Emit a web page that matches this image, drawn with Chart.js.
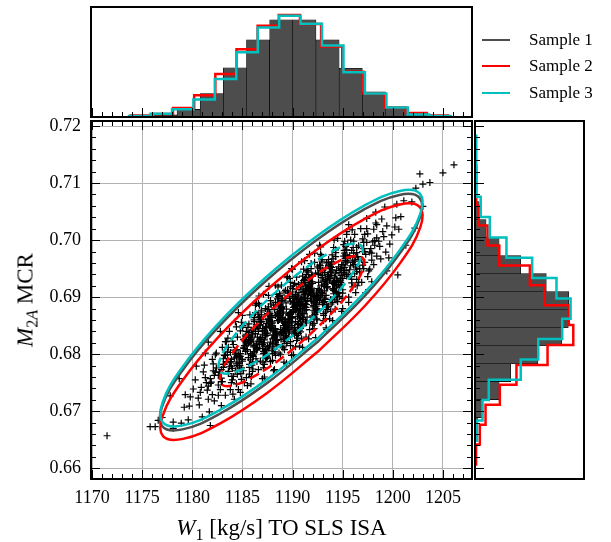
<!DOCTYPE html>
<html>
<head>
<meta charset="utf-8">
<title>Sample comparison</title>
<script src="https://cdn.jsdelivr.net/npm/chart.js@4.4.1/dist/chart.umd.min.js"></script>
<style>
  html, body { margin: 0; padding: 0; background: #fff; }
  #wrap { position: relative; width: 611px; height: 542px; overflow: hidden; font-family: "Liberation Serif", "Times New Roman", serif; color: #000; }
  #wrap canvas { position: absolute; left: 0; top: 0; }
  .title { position: absolute; font-size: 23px; line-height: 23px; white-space: nowrap; }
  .title sub { font-size: 0.7em; vertical-align: -0.3em; line-height: 0; }
  #xtitle { left: 91px; width: 381px; top: 516px; text-align: center; }
  #ytitle { left: 25px; top: 300px; transform: translate(-50%, -50%) rotate(-90deg); }
  .leg { position: absolute; left: 482px; font-size: 17px; line-height: 20px; white-space: nowrap; }
  .leg span { display: inline-block; width: 28px; height: 0; border-top: 2.5px solid; vertical-align: middle; margin-right: 19px; position: relative; top: -1px; }
</style>
</head>
<body>
<div id="wrap">
  <canvas id="main" width="611" height="542"></canvas>
  <canvas id="topHist" width="611" height="542"></canvas>
  <canvas id="sideHist" width="611" height="542"></canvas>
  <div class="title" id="xtitle"><i>W</i><sub>1</sub> [kg/s] TO SLS ISA</div>
  <div class="title" id="ytitle"><i>M</i><sub>2<i>A</i></sub> MCR</div>
  <div class="leg" style="top:30px"><span style="border-color:#4d4d4d"></span>Sample 1</div>
  <div class="leg" style="top:56px"><span style="border-color:#ff0000"></span>Sample 2</div>
  <div class="leg" style="top:83px"><span style="border-color:#00bfbf"></span>Sample 3</div>
</div>
<script>
// colours of the three samples
const GRAY = '#4d4d4d', RED = '#ff0000', CYAN = '#00bfbf';

// axis ticks
const xTicks = [1170, 1175, 1180, 1185, 1190, 1195, 1200, 1205];
const yTicks = [0.66, 0.67, 0.68, 0.69, 0.70, 0.71, 0.72];

// top histogram (W1), density per bin
const grayEdgesX = [1171.55, 1173.86, 1176.17, 1178.48, 1180.79, 1183.10, 1185.41, 1187.72, 1190.03, 1192.34, 1194.65, 1196.96, 1199.27, 1201.58, 1203.89, 1206.20];
const grayDensX = [0.0004, 0.0008, 0.0017, 0.0063, 0.0195, 0.0409, 0.0640, 0.0807, 0.0807, 0.0640, 0.0404, 0.0209, 0.0078, 0.0017, 0.0008];
const redEdgesX = [1173.86, 1175.97, 1178.08, 1180.19, 1182.30, 1184.41, 1186.52, 1188.63, 1190.74, 1192.85, 1194.96, 1197.07, 1199.18, 1201.29, 1203.40, 1205.51];
const redDensX = [0.0012, 0.0025, 0.0075, 0.0181, 0.0357, 0.0563, 0.0757, 0.0847, 0.0772, 0.0585, 0.0376, 0.0195, 0.0078, 0.0033, 0.0012];
const cyanEdgesX = [1173.70, 1175.84, 1177.98, 1180.11, 1182.25, 1184.39, 1186.53, 1188.67, 1190.80, 1192.94, 1195.08, 1197.22, 1199.36, 1201.49, 1203.63, 1205.77];
const cyanDensX = [0.0008, 0.0028, 0.0064, 0.0145, 0.0315, 0.0538, 0.0743, 0.0841, 0.0774, 0.0593, 0.0371, 0.0195, 0.0078, 0.0020, 0.0008];

// right histogram (M2A), density per bin
const grayEdgesY = [0.66572, 0.66888, 0.67203, 0.67519, 0.67834, 0.68150, 0.68465, 0.68781, 0.69096, 0.69412, 0.69727, 0.70043, 0.70359, 0.70674, 0.70990, 0.71305];
const grayDensY = [1.4, 4.5, 13.5, 20.0, 35.2, 48.6, 52.2, 52.4, 39.9, 25.6, 13.5, 6.2, 2.3, 0.8, 1.1];
const redEdgesY = [0.66067, 0.66416, 0.66765, 0.67114, 0.67463, 0.67812, 0.68161, 0.68510, 0.68859, 0.69208, 0.69557, 0.69906, 0.70255, 0.70604, 0.70953, 0.71302];
const redDensY = [0.6, 2.7, 5.9, 13.9, 23.2, 40.6, 55.0, 52.5, 38.8, 30.7, 13.6, 7.0, 2.1, 0.8, 0.6];
const cyanEdgesY = [0.66482, 0.66839, 0.67195, 0.67552, 0.67908, 0.68265, 0.68621, 0.68978, 0.69334, 0.69691, 0.70047, 0.70404, 0.70760, 0.71117, 0.71473, 0.71830];
const cyanDensY = [1.1, 4.2, 7.7, 25.6, 35.4, 48.8, 53.5, 45.6, 32.0, 17.6, 8.3, 3.2, 0.8, 0.7, 0.7];

// confidence contours (outer solid, inner dashed)
const grayOuter = [[1192.49,0.68213],[1187.38,0.67484],[1182.66,0.66947],[1179.02,0.66682],[1177.03,0.66730],[1176.99,0.67083],[1178.91,0.67689],[1182.48,0.68453],[1187.19,0.69262],[1192.30,0.69990],[1197.02,0.70527],[1200.66,0.70792],[1202.65,0.70744],[1202.69,0.70391],[1200.77,0.69785],[1197.20,0.69021],[1192.49,0.68213]];
const redOuter = [[1192.54,0.68046],[1187.43,0.67317],[1182.71,0.66780],[1179.07,0.66515],[1177.08,0.66563],[1177.04,0.66916],[1178.96,0.67522],[1182.53,0.68286],[1187.24,0.69095],[1192.35,0.69823],[1197.07,0.70360],[1200.71,0.70625],[1202.70,0.70577],[1202.74,0.70224],[1200.82,0.69618],[1197.25,0.68854],[1192.54,0.68046]];
const cyanOuter = [[1192.54,0.68283],[1187.43,0.67554],[1182.71,0.67017],[1179.07,0.66752],[1177.08,0.66800],[1177.04,0.67153],[1178.96,0.67759],[1182.53,0.68523],[1187.24,0.69332],[1192.35,0.70060],[1197.07,0.70597],[1200.71,0.70862],[1202.70,0.70814],[1202.74,0.70461],[1200.82,0.69855],[1197.25,0.69091],[1192.54,0.68283]];
const redInner = [[1191.41,0.68292],[1188.60,0.67891],[1186.00,0.67596],[1184.00,0.67450],[1182.90,0.67476],[1182.88,0.67671],[1183.94,0.68004],[1185.90,0.68424],[1188.49,0.68869],[1191.30,0.69269],[1193.90,0.69564],[1195.90,0.69711],[1197.00,0.69684],[1197.02,0.69490],[1195.96,0.69157],[1194.00,0.68736],[1191.41,0.68292]];
const cyanInner = [[1191.26,0.68512],[1188.45,0.68111],[1185.85,0.67816],[1183.85,0.67670],[1182.75,0.67696],[1182.73,0.67891],[1183.79,0.68224],[1185.75,0.68644],[1188.34,0.69089],[1191.15,0.69489],[1193.75,0.69784],[1195.75,0.69931],[1196.85,0.69904],[1196.87,0.69710],[1195.81,0.69377],[1193.85,0.68956],[1191.26,0.68512]];

// Sample 1 scatter (W1, M2A)
const samplePoints = [
  [1190.1,0.6875],[1189.7,0.6871],[1190.4,0.6879],[1189.9,0.6866],[1190.2,0.6884],[1189.6,0.6862],[1190.0,0.6888],[1190.3,0.6857],[1189.8,0.6893],[1190.5,0.6852],
  [1189.7,0.6898],[1190.2,0.6847],[1190.0,0.6904],[1190.3,0.6841],[1189.5,0.6911],[1190.4,0.6833],[1190.1,0.6920],[1189.8,0.6822],[1190.4,0.6935],[1189.9,0.6798],
  [1189.8,0.6873],[1190.3,0.6877],[1189.6,0.6869],[1190.1,0.6882],[1190.0,0.6864],[1190.4,0.6886],[1189.7,0.6860],[1190.2,0.6891],[1189.9,0.6855],[1190.4,0.6896],
  [1189.5,0.6850],[1190.0,0.6901],[1190.2,0.6844],[1189.6,0.6907],[1190.1,0.6837],[1190.0,0.6915],[1190.5,0.6828],[1189.8,0.6926],[1190.3,0.6813],[1189.9,0.6950],
  [1190.6,0.6889],[1191.0,0.6885],[1191.3,0.6893],[1190.8,0.6880],[1191.5,0.6898],[1190.7,0.6876],[1191.2,0.6902],[1191.0,0.6871],[1191.3,0.6907],[1190.5,0.6866],
  [1191.4,0.6912],[1191.1,0.6861],[1190.8,0.6918],[1191.4,0.6855],[1190.9,0.6925],[1190.8,0.6847],[1191.3,0.6934],[1190.6,0.6836],[1191.1,0.6949],[1191.0,0.6812],
  [1191.4,0.6887],[1190.7,0.6891],[1191.2,0.6883],[1190.9,0.6896],[1191.4,0.6878],[1190.5,0.6900],[1191.0,0.6874],[1191.2,0.6905],[1190.6,0.6869],[1191.1,0.6910],
  [1191.0,0.6864],[1191.5,0.6915],[1190.8,0.6858],[1191.3,0.6921],[1190.9,0.6851],[1191.1,0.6929],[1190.7,0.6842],[1191.4,0.6940],[1190.9,0.6827],[1191.2,0.6964],
  [1188.7,0.6861],[1189.2,0.6857],[1189.0,0.6865],[1189.3,0.6852],[1188.5,0.6870],[1189.4,0.6848],[1189.1,0.6874],[1188.8,0.6843],[1189.4,0.6879],[1188.9,0.6838],
  [1188.8,0.6884],[1189.3,0.6833],[1188.6,0.6890],[1189.1,0.6827],[1189.0,0.6897],[1189.4,0.6819],[1188.7,0.6906],[1189.2,0.6808],[1188.9,0.6921],[1189.4,0.6784],
  [1188.5,0.6859],[1189.0,0.6863],[1189.2,0.6855],[1188.6,0.6868],[1189.1,0.6850],[1189.0,0.6872],[1189.5,0.6846],[1188.8,0.6877],[1189.3,0.6841],[1188.9,0.6882],
  [1189.1,0.6836],[1188.7,0.6887],[1189.4,0.6830],[1188.9,0.6893],[1189.2,0.6823],[1188.6,0.6901],[1189.0,0.6814],[1189.3,0.6912],[1188.8,0.6799],[1189.5,0.6936],
  [1192.4,0.6902],[1192.1,0.6904],[1191.8,0.6897],[1192.4,0.6909],[1191.9,0.6893],[1191.8,0.6914],[1192.3,0.6888],[1191.6,0.6919],[1192.1,0.6883],[1192.0,0.6924],
  [1192.4,0.6877],[1191.7,0.6930],[1192.2,0.6870],[1191.9,0.6937],[1192.4,0.6862],[1191.5,0.6947],[1192.0,0.6851],[1192.2,0.6961],[1191.6,0.6827],[1192.1,0.6900],
  [1192.0,0.6907],[1192.5,0.6895],[1191.8,0.6911],[1192.3,0.6890],[1191.9,0.6916],[1192.1,0.6885],[1191.7,0.6921],[1192.4,0.6880],[1191.9,0.6927],[1192.2,0.6874],
  [1191.6,0.6934],[1192.0,0.6867],[1192.3,0.6942],[1191.8,0.6857],[1192.5,0.6953],[1191.7,0.6843],[1192.2,0.6977],
  [1187.8,0.6846],[1188.3,0.6844],[1187.6,0.6851],[1188.1,0.6839],[1188.0,0.6855],[1188.4,0.6834],[1187.7,0.6860],[1188.2,0.6829],[1187.9,0.6865],[1188.4,0.6824],
  [1187.5,0.6871],[1188.0,0.6818],[1188.2,0.6878],[1187.6,0.6811],[1188.1,0.6886],[1188.0,0.6801],[1188.5,0.6897],[1187.8,0.6787],[1188.3,0.6921],[1187.9,0.6848],
  [1188.1,0.6841],[1187.7,0.6853],[1188.4,0.6837],[1187.9,0.6858],[1188.2,0.6832],[1187.6,0.6863],[1188.0,0.6827],[1188.3,0.6868],[1187.8,0.6821],[1188.5,0.6874],
  [1187.7,0.6814],[1188.2,0.6881],[1188.0,0.6806],[1188.3,0.6891],[1187.5,0.6795],[1188.4,0.6905],[1188.1,0.6771],
  [1193.4,0.6918],[1192.7,0.6913],[1193.2,0.6923],[1192.9,0.6908],[1193.4,0.6928],[1192.5,0.6903],[1193.0,0.6934],[1193.2,0.6897],[1192.6,0.6940],[1193.1,0.6891],
  [1193.0,0.6947],[1193.5,0.6883],[1192.8,0.6955],[1193.3,0.6874],[1192.9,0.6966],[1193.1,0.6859],[1192.7,0.6991],[1193.4,0.6916],[1192.9,0.6921],[1193.2,0.6911],
  [1192.6,0.6926],[1193.0,0.6906],[1193.3,0.6931],[1192.8,0.6900],[1193.5,0.6937],[1192.7,0.6894],[1193.2,0.6943],[1193.0,0.6887],[1193.3,0.6951],[1192.5,0.6879],
  [1193.4,0.6960],[1193.1,0.6868],[1192.8,0.6975],[1193.4,0.6843],
  [1186.5,0.6830],[1187.0,0.6835],[1187.2,0.6825],[1186.6,0.6840],[1187.1,0.6820],[1187.0,0.6845],[1187.5,0.6814],[1186.8,0.6851],[1187.3,0.6808],[1186.9,0.6857],
  [1187.1,0.6801],[1186.7,0.6865],[1187.4,0.6793],[1186.9,0.6874],[1187.2,0.6782],[1186.6,0.6889],[1187.0,0.6757],[1187.3,0.6832],[1186.8,0.6827],[1187.5,0.6837],
  [1186.7,0.6822],[1187.2,0.6842],[1187.0,0.6817],[1187.3,0.6848],[1186.5,0.6811],[1187.4,0.6854],[1187.1,0.6805],[1186.8,0.6861],[1187.4,0.6797],[1186.9,0.6869],
  [1186.8,0.6788],[1187.3,0.6880],[1186.6,0.6773],[1187.1,0.6905],
  [1194.4,0.6932],[1194.1,0.6927],[1193.8,0.6938],[1194.4,0.6921],[1193.9,0.6944],[1194.1,0.6915],[1193.7,0.6950],[1194.4,0.6908],[1193.9,0.6958],[1194.2,0.6900],
  [1193.6,0.6966],[1194.0,0.6891],[1194.3,0.6978],[1193.8,0.6875],[1194.5,0.7003],[1193.7,0.6930],[1194.2,0.6935],[1194.0,0.6924],[1194.3,0.6941],[1193.5,0.6918],
  [1194.4,0.6947],[1194.1,0.6912],[1193.8,0.6954],[1194.4,0.6904],[1193.9,0.6962],[1193.8,0.6896],[1194.3,0.6971],[1193.6,0.6884],[1194.1,0.6987],[1194.0,0.6859],
  [1186.1,0.6816],[1185.7,0.6821],[1186.4,0.6810],[1185.9,0.6827],[1186.2,0.6804],[1185.6,0.6833],[1186.0,0.6798],[1186.3,0.6840],[1185.8,0.6790],[1186.5,0.6848],
  [1185.7,0.6782],[1186.2,0.6857],[1186.0,0.6770],[1186.3,0.6873],[1185.5,0.6745],[1186.4,0.6818],[1186.1,0.6813],[1185.8,0.6824],[1186.4,0.6807],[1185.9,0.6830],
  [1185.8,0.6801],[1186.3,0.6836],[1185.6,0.6794],[1186.1,0.6844],[1186.0,0.6786],[1186.4,0.6852],[1185.7,0.6777],[1186.2,0.6864],[1185.9,0.6761],[1186.4,0.6889],
  [1194.9,0.6947],[1195.2,0.6940],[1194.6,0.6953],[1195.0,0.6933],[1195.3,0.6960],[1194.8,0.6926],[1195.5,0.6968],[1194.7,0.6918],[1195.2,0.6977],[1195.0,0.6907],
  [1195.3,0.6989],[1194.5,0.6892],[1195.4,0.7015],[1195.1,0.6943],[1194.8,0.6950],[1195.4,0.6937],[1194.9,0.6957],[1194.8,0.6930],[1195.3,0.6964],[1194.6,0.6922],
  [1195.1,0.6972],[1195.0,0.6913],[1195.4,0.6983],[1194.7,0.6901],[1195.2,0.6998],[1194.9,0.6875],
  [1184.8,0.6801],[1185.5,0.6808],[1184.7,0.6795],[1185.2,0.6815],[1185.0,0.6788],[1185.3,0.6822],[1184.5,0.6780],[1185.4,0.6830],[1185.1,0.6771],[1184.8,0.6841],
  [1185.4,0.6759],[1184.9,0.6856],[1184.8,0.6733],[1185.3,0.6805],[1184.6,0.6798],[1185.1,0.6811],[1185.0,0.6791],[1185.4,0.6818],[1184.7,0.6784],[1185.2,0.6826],
  [1184.9,0.6776],[1185.4,0.6835],[1184.5,0.6765],[1185.0,0.6847],[1185.2,0.6750],[1184.6,0.6873],
  [1196.0,0.6961],[1196.3,0.6953],[1195.5,0.6969],[1196.4,0.6945],[1196.1,0.6977],[1195.8,0.6936],[1196.4,0.6987],[1195.9,0.6925],[1195.8,0.7000],[1196.3,0.6908],
  [1195.6,0.7027],[1196.1,0.6957],[1196.0,0.6965],[1196.4,0.6949],[1195.7,0.6973],[1196.2,0.6941],[1195.9,0.6982],[1196.4,0.6931],[1195.5,0.6993],[1196.0,0.6918],
  [1196.2,0.7010],[1195.6,0.6891],
  [1183.8,0.6787],[1184.4,0.6795],[1183.9,0.6779],[1183.8,0.6803],[1184.3,0.6771],[1183.6,0.6812],[1184.1,0.6761],[1184.0,0.6823],[1184.4,0.6748],[1183.7,0.6840],
  [1184.2,0.6721],[1183.9,0.6791],[1184.4,0.6783],[1183.5,0.6799],[1184.0,0.6775],[1184.2,0.6807],[1183.6,0.6766],[1184.1,0.6817],[1184.0,0.6755],[1184.5,0.6830],
  [1183.8,0.6738],[1184.3,0.6857],
  [1197.3,0.6975],[1196.6,0.6966],[1197.1,0.6985],[1197.0,0.6956],[1197.4,0.6996],[1196.7,0.6944],[1197.2,0.7010],[1196.9,0.6926],[1197.4,0.7038],[1196.5,0.6971],
  [1197.0,0.6980],[1197.2,0.6961],[1196.6,0.6990],[1197.1,0.6950],[1197.0,0.7002],[1197.5,0.6936],[1196.8,0.7020],[1197.3,0.6908],
  [1182.9,0.6773],[1183.2,0.6782],[1182.6,0.6763],[1183.1,0.6792],[1183.0,0.6752],[1183.5,0.6804],[1182.8,0.6738],[1183.3,0.6822],[1182.9,0.6710],[1183.1,0.6777],
  [1182.7,0.6768],[1183.4,0.6787],[1182.9,0.6758],[1183.2,0.6798],[1182.6,0.6746],[1183.0,0.6812],[1183.3,0.6728],[1182.8,0.6840],
  [1198.2,0.6991],[1197.7,0.6979],[1198.4,0.7004],[1197.9,0.6965],[1198.1,0.7019],[1197.6,0.6946],[1198.3,0.7049],[1197.8,0.6985],[1198.0,0.6997],[1198.4,0.6972],
  [1197.5,0.7011],[1198.1,0.6957],[1198.3,0.7030],[1197.9,0.6927],
  [1181.8,0.6757],[1182.3,0.6769],[1181.6,0.6744],[1182.1,0.6783],[1182.0,0.6729],[1182.4,0.6802],[1181.7,0.6699],[1182.2,0.6763],[1181.9,0.6751],[1182.4,0.6776],
  [1181.5,0.6737],[1182.0,0.6791],[1182.2,0.6718],[1181.6,0.6821],
  [1199.1,0.7006],[1198.7,0.6989],[1199.4,0.7025],[1198.8,0.6967],[1199.2,0.7058],[1198.6,0.6998],[1199.0,0.7015],[1199.3,0.6979],[1198.9,0.7037],[1199.4,0.6946],
  [1180.9,0.6742],[1181.3,0.6759],[1180.6,0.6723],[1181.2,0.6781],[1181.0,0.6690],[1181.4,0.6750],[1180.8,0.6733],[1181.1,0.6769],[1180.7,0.6711],[1181.3,0.6802],
  [1200.2,0.7023],[1199.7,0.6993],[1200.4,0.7063],[1199.9,0.7009],[1200.3,0.7039],[1199.6,0.6969],
  [1179.8,0.6725],[1180.3,0.6755],[1179.6,0.6685],[1180.1,0.6739],[1179.7,0.6709],[1180.4,0.6779],
  [1200.8,0.7041],[1201.3,0.6991],[1201.1,0.7069],[1200.6,0.7019],
  [1179.2,0.6707],[1178.7,0.6757],[1178.9,0.6679],[1179.3,0.6729],
  [1201.9,0.7067],[1202.2,0.7021],[1178.1,0.6681],[1177.8,0.6727],[1203.0,0.7059],[1177.0,0.6689],
  [1171.5,0.6657],[1175.8,0.6673],[1176.3,0.6673],[1176.6,0.6684],[1178.1,0.6670],[1181.8,0.6675],
  [1206.1,0.7132],[1205.0,0.7118],[1203.7,0.7101],[1203.0,0.7098],[1202.7,0.7116],[1202.3,0.7091],[1200.5,0.6939],
  // denser core
  [1190.05,0.6875],[1189.75,0.6870],[1190.35,0.6880],[1189.85,0.6866],[1190.25,0.6885],[1189.55,0.6861],[1190.15,0.6890],[1189.65,0.6855],[1190.45,0.6895],[1189.95,0.6850],
  [1190.3,0.6902],[1189.6,0.6843],[1190.0,0.6909],[1190.2,0.6835],[1189.8,0.6918],[1190.4,0.6824],[1189.7,0.6933],[1190.1,0.6799],
  [1189.9,0.6873],[1190.35,0.6878],[1189.65,0.6868],[1190.25,0.6882],[1189.95,0.6863],[1190.45,0.6887],[1189.75,0.6858],[1190.05,0.6893],[1189.55,0.6853],[1190.15,0.6898],
  [1189.85,0.6846],[1190.3,0.6905],[1189.7,0.6839],[1190.4,0.6913],[1189.6,0.6830],[1190.2,0.6924],[1189.8,0.6815],[1190.0,0.6949],
  [1190.65,0.6888],[1191.25,0.6889],[1190.95,0.6884],[1191.45,0.6894],[1190.75,0.6879],[1191.05,0.6899],[1190.55,0.6874],[1191.15,0.6905],[1190.85,0.6868],[1191.3,0.6911],
  [1190.7,0.6862],[1191.4,0.6918],[1190.6,0.6854],[1191.2,0.6926],[1190.8,0.6845],[1191.0,0.6937],[1191.35,0.6830],[1190.9,0.6962],
  [1191.05,0.6887],[1190.75,0.6892],[1191.35,0.6882],[1190.85,0.6897],[1191.25,0.6877],[1190.55,0.6902],[1191.15,0.6871],[1190.65,0.6908],[1191.45,0.6865],[1190.95,0.6914],
  [1191.3,0.6858],[1190.6,0.6922],[1191.0,0.6850],[1191.2,0.6931],[1190.8,0.6839],[1191.4,0.6946],[1190.7,0.6814],
  [1189.3,0.6860],[1188.6,0.6859],[1189.0,0.6864],[1189.2,0.6854],[1188.8,0.6869],[1189.4,0.6849],[1188.7,0.6874],[1189.1,0.6843],[1188.9,0.6880],[1189.35,0.6837],
  [1188.65,0.6886],[1189.25,0.6830],[1188.95,0.6894],[1189.45,0.6822],[1188.75,0.6903],[1189.05,0.6811],[1188.55,0.6918],[1189.15,0.6786],
  [1188.85,0.6861],[1189.3,0.6856],[1188.7,0.6866],[1189.4,0.6851],[1188.6,0.6871],[1189.2,0.6846],[1188.8,0.6877],[1189.0,0.6840],[1189.05,0.6883],[1188.75,0.6834],
  [1189.35,0.6890],[1188.85,0.6826],[1189.25,0.6898],[1188.55,0.6817],[1189.15,0.6909],[1188.65,0.6802],[1189.45,0.6934],
  [1191.8,0.6903],[1192.4,0.6898],[1191.7,0.6909],[1192.1,0.6893],[1191.9,0.6914],[1192.35,0.6887],[1191.65,0.6920],[1192.25,0.6881],[1191.95,0.6927],[1192.45,0.6874],
  [1191.75,0.6934],[1192.05,0.6865],[1191.55,0.6944],[1192.15,0.6854],[1191.85,0.6959],[1192.3,0.6829],
  [1192.2,0.6901],[1191.6,0.6906],[1192.3,0.6895],[1191.9,0.6911],[1192.1,0.6890],[1191.65,0.6917],[1192.35,0.6884],[1191.75,0.6923],[1192.05,0.6877],[1191.55,0.6930],
  [1192.25,0.6870],[1191.95,0.6939],[1192.45,0.6860],[1191.85,0.6950],[1192.15,0.6845],[1191.7,0.6975],
  [1188.25,0.6845],[1187.95,0.6850],[1188.45,0.6839],[1187.75,0.6855],[1188.05,0.6834],[1187.55,0.6861],[1188.15,0.6828],[1187.85,0.6867],[1188.3,0.6821],[1187.7,0.6874],
  [1188.4,0.6814],[1187.6,0.6883],[1188.2,0.6804],[1187.8,0.6894],[1188.0,0.6789],[1187.65,0.6919],
  [1187.7,0.6847],[1188.1,0.6842],[1187.9,0.6853],[1188.35,0.6837],[1187.65,0.6858],[1188.25,0.6831],[1187.95,0.6864],[1188.45,0.6825],[1187.75,0.6871],[1188.05,0.6818],
  [1187.55,0.6878],[1188.15,0.6809],[1187.85,0.6888],[1188.3,0.6798],[1187.6,0.6903],[1188.2,0.6773],
  [1193.15,0.6919],[1192.65,0.6912],[1193.45,0.6925],[1192.95,0.6906],[1193.3,0.6931],[1192.6,0.6900],[1193.0,0.6938],[1193.2,0.6892],[1192.8,0.6946],[1193.4,0.6883],
  [1192.7,0.6956],[1193.1,0.6871],[1192.9,0.6972],[1193.35,0.6846],
  [1192.55,0.6915],[1193.25,0.6922],[1192.75,0.6909],[1193.05,0.6928],[1193.35,0.6903],[1192.85,0.6934],[1193.25,0.6896],[1192.55,0.6942],[1193.15,0.6888],[1192.65,0.6951],
  [1193.45,0.6878],[1192.95,0.6963],[1193.3,0.6862],[1192.8,0.6988],
  [1186.85,0.6829],[1187.35,0.6836],[1186.55,0.6823],[1187.05,0.6842],[1186.7,0.6817],[1187.4,0.6848],[1187.0,0.6810],[1186.8,0.6856],[1187.2,0.6802],[1186.6,0.6865],
  [1187.3,0.6792],[1186.9,0.6877],[1187.1,0.6776],[1186.65,0.6902],
  [1187.45,0.6833],[1186.75,0.6826],[1187.25,0.6839],[1186.95,0.6820],[1186.65,0.6845],[1187.15,0.6814],[1186.75,0.6852],[1187.45,0.6806],[1186.85,0.6860],[1187.35,0.6797],
  [1186.55,0.6870],[1187.05,0.6785],[1186.7,0.6886],[1187.2,0.6760],
  [1193.75,0.6933],[1194.15,0.6926],[1193.55,0.6940],[1194.35,0.6918],[1193.95,0.6948],[1194.25,0.6910],[1193.65,0.6956],[1194.45,0.6901],[1194.05,0.6967],[1193.85,0.6888],
  [1194.3,0.6983],[1193.7,0.6862],
  [1194.4,0.6929],[1193.6,0.6936],[1194.2,0.6922],[1193.8,0.6944],[1194.0,0.6914],[1193.9,0.6952],[1194.1,0.6906],[1193.55,0.6961],[1194.35,0.6895],[1193.95,0.6974],
  [1194.25,0.6879],[1194.15,0.7000],
  [1186.25,0.6815],[1185.85,0.6822],[1186.45,0.6808],[1185.65,0.6830],[1186.05,0.6800],[1185.75,0.6838],[1186.35,0.6792],[1185.55,0.6847],[1185.95,0.6781],[1186.15,0.6860],
  [1185.7,0.6765],[1186.3,0.6886],
  [1185.6,0.6819],[1186.4,0.6812],[1185.8,0.6826],[1186.2,0.6804],[1186.0,0.6834],[1186.1,0.6796],[1185.9,0.6842],[1186.45,0.6787],[1185.65,0.6853],[1186.05,0.6774],
  [1185.75,0.6869],[1185.85,0.6748],
  [1195.35,0.6947],[1194.85,0.6938],[1195.05,0.6957],[1194.55,0.6928],[1195.25,0.6968],[1194.7,0.6916],[1195.15,0.6982],[1194.95,0.6898],[1195.4,0.7010],
  [1194.65,0.6943],[1195.2,0.6952],[1194.75,0.6933],[1195.45,0.6962],[1194.9,0.6922],[1195.3,0.6974],[1194.6,0.6908],[1195.1,0.6992],[1195.0,0.6880],
  [1184.65,0.6801],[1185.15,0.6810],[1184.95,0.6791],[1185.45,0.6820],[1184.75,0.6780],[1185.3,0.6832],[1184.85,0.6766],[1185.05,0.6850],[1184.6,0.6738],
  [1185.35,0.6805],[1184.8,0.6796],[1185.25,0.6815],[1184.55,0.6786],[1185.1,0.6826],[1184.7,0.6774],[1185.4,0.6840],[1184.9,0.6756],[1185.0,0.6868],
  [1196.2,0.6963],[1195.7,0.6948],[1196.4,0.6978],[1195.9,0.6931],[1196.1,0.6998],[1195.6,0.6900],
  [1195.8,0.6955],[1196.3,0.6970],[1195.55,0.6940],[1196.05,0.6987],[1196.45,0.6920],[1195.95,0.7018],
  [1183.8,0.6785],[1184.3,0.6800],[1183.6,0.6770],[1184.1,0.6817],[1183.9,0.6750],[1184.4,0.6848],
  [1184.2,0.6793],[1183.7,0.6778],[1184.45,0.6808],[1183.95,0.6761],[1183.55,0.6828],[1184.05,0.6730],
  [1197.2,0.6980],[1196.7,0.6950],[1197.4,0.7020],[1196.9,0.6966],[1197.1,0.6996],[1196.6,0.6926],
  [1182.8,0.6768],[1183.3,0.6798],[1182.6,0.6728],[1183.1,0.6782],[1182.9,0.6752],[1183.4,0.6822],
  [1198.2,0.6999],[1197.7,0.6949],[1198.4,0.7027],[1197.9,0.6977],
  [1181.8,0.6749],[1182.3,0.6799],[1181.6,0.6721],[1182.1,0.6771]
];

Chart.defaults.font.family = '"Liberation Serif", "Times New Roman", serif';
Chart.defaults.color = '#000';

const xMinor = [];
for (let v = 1170; v <= 1207; v++) xMinor.push(v);
const yMinor = [];
for (let i = 329; i <= 360; i++) yMinor.push(+(i * 0.002).toFixed(3));
const isMajor = (v, list) => list.some(t => Math.abs(t - v) < 1e-7);

// frame + inward ticks around the plotting area
const frameTicks = {
  id: 'frameTicks',
  afterDraw(chart, args, opts) {
    const {ctx, chartArea: a} = chart;
    const sx = chart.scales.x, sy = chart.scales.y;
    ctx.save();
    ctx.strokeStyle = '#000';
    ctx.lineWidth = 1;
    const seg = (x1, y1, x2, y2) => { ctx.beginPath(); ctx.moveTo(x1, y1); ctx.lineTo(x2, y2); ctx.stroke(); };
    (opts.x || []).forEach(side => {
      xMinor.forEach(v => {
        if (v < sx.min || v > sx.max) return;
        const p = Math.round(sx.getPixelForValue(v)) + 0.5;
        const len = isMajor(v, xTicks) ? 9 : 5;
        if (side === 'bottom') seg(p, a.bottom, p, a.bottom - len);
        else seg(p, a.top, p, a.top + len);
      });
    });
    (opts.y || []).forEach(side => {
      yMinor.forEach(v => {
        if (v < sy.min || v > sy.max) return;
        const p = Math.round(sy.getPixelForValue(v)) + 0.5;
        const len = isMajor(v, yTicks) ? 9 : 5;
        if (side === 'left') seg(a.left, p, a.left + len, p);
        else seg(a.right, p, a.right - len, p);
      });
    });
    ctx.lineWidth = 2;
    ctx.strokeRect(a.left, a.top, a.right - a.left, a.bottom - a.top);
    ctx.restore();
  }
};

const toXY = arr => arr.map(p => ({x: p[0], y: p[1]}));
const centers = e => e.slice(0, -1).map((v, i) => (v + e[i + 1]) / 2);
// outline of a histogram drawn as steps
function stepX(edges, dens) {
  const pts = [{x: edges[0], y: 0}];
  dens.forEach((d, i) => pts.push({x: edges[i], y: d}, {x: edges[i + 1], y: d}));
  pts.push({x: edges[edges.length - 1], y: 0});
  return pts;
}
function stepY(edges, dens) {
  const pts = [{x: 0, y: edges[0]}];
  dens.forEach((d, i) => pts.push({x: d, y: edges[i]}, {x: d, y: edges[i + 1]}));
  pts.push({x: 0, y: edges[edges.length - 1]});
  return pts;
}

const contour = (pts, color, dash) => ({
  data: toXY(pts), showLine: true, borderColor: color, borderWidth: 2.5,
  borderDash: dash ? [10, 5] : [], pointRadius: 0, tension: 0.4, fill: false
});
const stepLine = (pts, color) => ({
  data: pts, showLine: true, borderColor: color, borderWidth: 2.5,
  pointRadius: 0, tension: 0, fill: false, borderJoinStyle: 'miter'
});
const setTicks = list => s => { s.ticks = list.map(v => ({value: v})); };

const base = {
  responsive: false, animation: false, devicePixelRatio: 1, events: [],
};

// main scatter + contours
new Chart(document.getElementById('main'), {
  type: 'scatter',
  data: {
    datasets: [
      contour(cyanInner, CYAN, true),
      contour(cyanOuter, CYAN, false),
      contour(redInner, RED, true),
      contour(redOuter, RED, false),
      contour(grayOuter, GRAY, false),
      {
        data: toXY(samplePoints), pointStyle: 'cross', pointRadius: 3.5,
        borderColor: '#000', borderWidth: 1.2, showLine: false
      }
    ]
  },
  options: {
    ...base,
    layout: {padding: {top: 121, right: 139, left: 0, bottom: 0}},
    plugins: {legend: {display: false}, tooltip: {enabled: false}, frameTicks: {x: ['bottom', 'top'], y: ['left', 'right']}},
    scales: {
      x: {
        type: 'linear', min: 1169.9, max: 1207.9,
        afterFit: s => { s.height = 63; },
        afterBuildTicks: setTicks(xTicks),
        grid: {color: '#b3b3b3', lineWidth: 1, drawTicks: false},
        border: {display: false},
        ticks: {padding: 8, autoSkip: false, maxRotation: 0, font: {size: 18}, callback: v => String(v)}
      },
      y: {
        type: 'linear', min: 0.65812, max: 0.72088,
        afterFit: s => { s.width = 91; },
        afterBuildTicks: setTicks(yTicks),
        grid: {color: '#b3b3b3', lineWidth: 1, drawTicks: false},
        border: {display: false},
        ticks: {padding: 10, autoSkip: false, font: {size: 18}, callback: v => v.toFixed(2)}
      }
    }
  },
  plugins: [frameTicks]
});

// top histogram
new Chart(document.getElementById('topHist'), {
  type: 'scatter',
  data: {
    datasets: [
      stepLine(stepX(cyanEdgesX, cyanDensX), CYAN),
      stepLine(stepX(redEdgesX, redDensX), RED),
      {
        type: 'bar',
        data: centers(grayEdgesX).map((c, i) => ({x: c, y: grayDensX[i]})),
        backgroundColor: GRAY, borderColor: '#000', borderWidth: 0.6,
        barPercentage: 1, categoryPercentage: 1
      }
    ]
  },
  options: {
    ...base,
    layout: {padding: {left: 91, right: 139, top: 7, bottom: 425}},
    plugins: {legend: {display: false}, tooltip: {enabled: false}, frameTicks: {x: ['bottom'], y: []}},
    scales: {
      x: {type: 'linear', min: 1169.9, max: 1207.9, display: false, offset: false, afterBuildTicks: setTicks(xTicks)},
      y: {type: 'linear', min: 0, max: 0.0913, display: false}
    }
  },
  plugins: [frameTicks]
});

// right histogram
new Chart(document.getElementById('sideHist'), {
  type: 'scatter',
  data: {
    datasets: [
      stepLine(stepY(cyanEdgesY, cyanDensY), CYAN),
      stepLine(stepY(redEdgesY, redDensY), RED),
      {
        type: 'bar', indexAxis: 'y',
        data: centers(grayEdgesY).map((c, i) => ({x: grayDensY[i], y: c})),
        backgroundColor: GRAY, borderColor: '#000', borderWidth: 0.6,
        barPercentage: 1, categoryPercentage: 1
      }
    ]
  },
  options: {
    ...base,
    layout: {padding: {left: 475, right: 27, top: 121, bottom: 63}},
    plugins: {legend: {display: false}, tooltip: {enabled: false}, frameTicks: {x: [], y: ['left']}},
    scales: {
      x: {type: 'linear', min: 0, max: 61, display: false},
      y: {type: 'linear', min: 0.65812, max: 0.72088, display: false, offset: false, afterBuildTicks: setTicks(yTicks)}
    }
  },
  plugins: [frameTicks]
});
</script>
</body>
</html>
